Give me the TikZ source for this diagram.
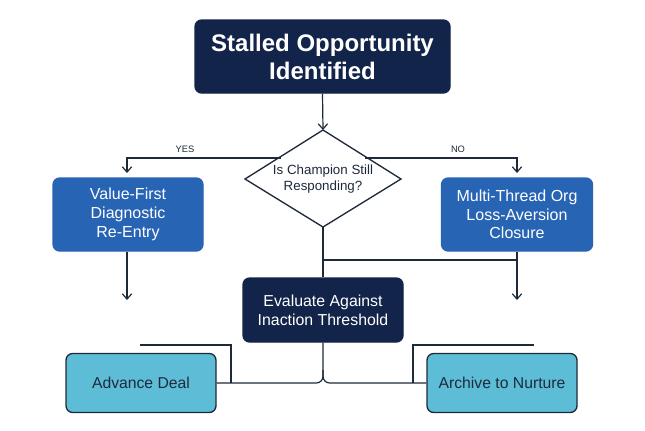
\documentclass[tikz,border=0pt]{standalone}
\usepackage{fontspec}
\setmainfont{Liberation Sans}
\usetikzlibrary{shapes.geometric,arrows.meta}
\definecolor{navy}{HTML}{13244A}
\definecolor{blu}{HTML}{2864B4}
\definecolor{cyn}{HTML}{5DBDD7}
\definecolor{ln}{HTML}{1E2A3A}
\begin{document}
\begin{tikzpicture}[x=0.75pt,y=-0.75pt,
  box/.style={rounded corners=5pt,draw,line width=1pt,align=center,inner sep=0pt},
  dark/.style={box,fill=navy,draw=navy,text=white},
  mid/.style={box,fill=blu,draw=blu,text=white,font=\fontsize{12}{14}\selectfont},
  lite/.style={box,fill=cyn,draw=ln,text=ln,font=\fontsize{11.8}{13}\selectfont},
  con/.style={draw=ln,line width=0.9pt},
  arr/.style={con,-{Straight Barb[length=4pt,width=7pt]}},
  lab/.style={font=\fontsize{7}{8}\selectfont,text=ln}]
\useasboundingbox[fill=white] (0,0) rectangle (645,430);
\node[dark,minimum width=255*0.75pt,minimum height=73*0.75pt,font=\bfseries\fontsize{18}{21}\selectfont] (top) at (322.5,56.5) {Stalled Opportunity\\Identified};
\coordinate (dn) at (323,130);
\coordinate (ds) at (323,227);
\coordinate (dw) at (245,179);
\coordinate (de) at (401,179);
\draw[draw=ln,line width=1pt,fill=white] (dn) -- (de) -- (ds) -- (dw) -- cycle;
\node[align=center,font=\fontsize{10}{12}\selectfont,text=ln,inner sep=0pt] (dia) at (323,179) {Is Champion Still\\Responding?};
\node[mid,minimum width=150*0.75pt,minimum height=73*0.75pt] (L) at (128,214.5) {Value-First\\Diagnostic\\Re-Entry};
\node[mid,minimum width=151*0.75pt,minimum height=73*0.75pt] (R) at (517,214.5) {Multi-Thread Org\\Loss-Aversion\\Closure};
\node[dark,minimum width=160*0.75pt,minimum height=64*0.75pt,font=\fontsize{11.9}{14.5}\selectfont] (ev) at (323,310) {Evaluate Against\\Inaction Threshold};
\node[lite,minimum width=150*0.75pt,minimum height=59*0.75pt] (A) at (141,383) {Advance Deal};
\node[lite,minimum width=150*0.75pt,minimum height=59*0.75pt] (B) at (502,383) {Archive to Nurture};
\coordinate (la) at (127,300);
\coordinate (ra) at (517,300);
\draw[arr] (top.south) -- (dn);
\draw[arr] (281,158) -- (127,158) -- (127,173);
\draw[arr] (365,158) -- (517,158) -- (517,173);
\node[lab] (yes) at (185,149) {YES};
\node[lab] (no) at (458,149) {NO};
\draw[arr] (L.south -| la) -- (la);
\draw[arr] (R.south -| ra) -- (ra);
\draw[con] (ds) -- (ev.north);
\draw[con] (323,260) -- (517,260);
\draw[con,rounded corners=5pt] (ev.south) -- (323,383) -- (A.east);
\draw[con,rounded corners=5pt] (323,370) -- (323,383) -- (B.west);
\draw[con] (140,345) -- (231,345) -- (231,383);
\draw[con] (534,345) -- (413,345) -- (413,383);
\end{tikzpicture}
\end{document}
